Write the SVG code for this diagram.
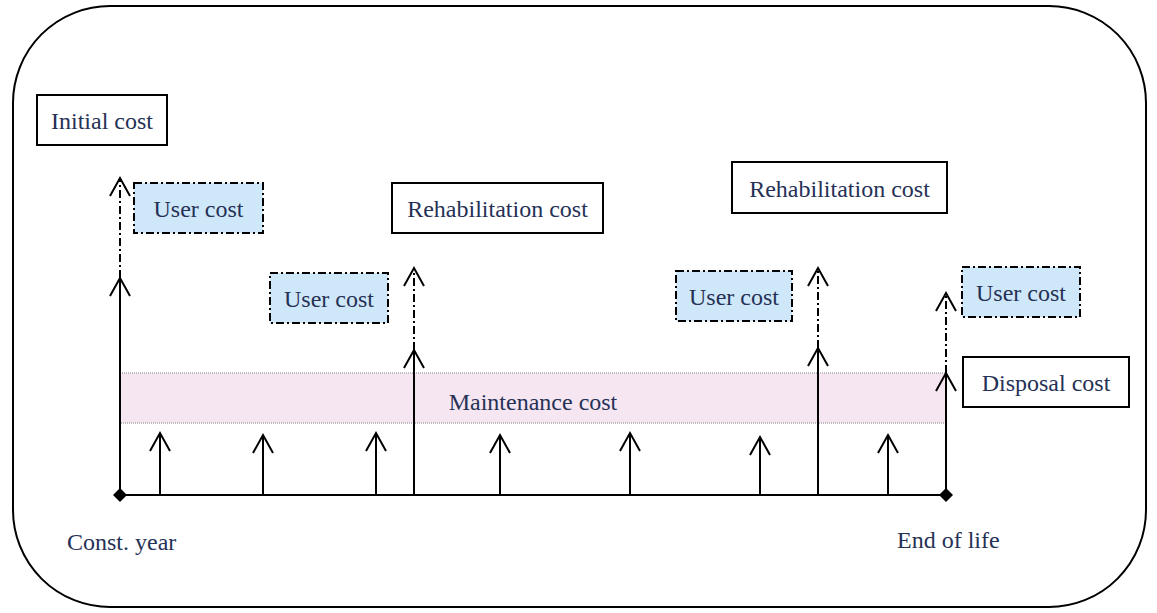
<svg xmlns="http://www.w3.org/2000/svg" width="1157" height="613" viewBox="0 0 1157 613">
  <style>
    .lbl { font-family: "Liberation Serif", "Times New Roman", serif; font-size: 24px; fill: #263156; }
    .box { fill: #ffffff; stroke: #000000; stroke-width: 2; }
    .ubox { fill: #cfe8f9; stroke: #000000; stroke-width: 2; stroke-dasharray: 8 3 2 3; }
    .solid { stroke: #000000; stroke-width: 2; fill: none; }
    .dash { stroke: #000000; stroke-width: 2; fill: none; stroke-dasharray: 8 3 2 3; }
  </style>
  <defs>
    <marker id="head" markerUnits="userSpaceOnUse" markerWidth="40" markerHeight="40" viewBox="-20 -20 40 40" refX="0" refY="0" orient="auto" overflow="visible">
      <path d="M-18,-10 L0,0 L-18,10" fill="none" stroke="#000" stroke-width="2"/>
    </marker>
    <marker id="dia" markerUnits="userSpaceOnUse" markerWidth="20" markerHeight="20" viewBox="-10 -10 20 20" refX="0" refY="0" overflow="visible">
      <path d="M0,-7 L7,0 L0,7 L-7,0 Z" fill="#000"/>
    </marker>
  </defs>

  <!-- frame -->
  <rect x="13" y="6" width="1133" height="601" rx="97" ry="97" fill="#ffffff" stroke="#000" stroke-width="2"/>

  <!-- maintenance band -->
  <g id="maintenance">
    <rect x="120" y="373" width="826" height="50" fill="#f5e6f1" stroke="#aaaaaa" stroke-width="1.5" stroke-dasharray="1 1"/>
    <text class="lbl" x="533" y="410" text-anchor="middle">Maintenance cost</text>
  </g>

  <g id="connectors">
    <!-- time axis -->
    <line x1="120" y1="495" x2="946" y2="495" class="solid" marker-start="url(#dia)" marker-end="url(#dia)"/>
    <!-- yearly maintenance arrows -->
    <line x1="160" y1="495" x2="160" y2="433" class="solid" marker-end="url(#head)"/>
    <line x1="263" y1="495" x2="263" y2="435" class="solid" marker-end="url(#head)"/>
    <line x1="376" y1="495" x2="376" y2="433" class="solid" marker-end="url(#head)"/>
    <line x1="500" y1="495" x2="500" y2="435" class="solid" marker-end="url(#head)"/>
    <line x1="630" y1="495" x2="630" y2="433" class="solid" marker-end="url(#head)"/>
    <line x1="760" y1="495" x2="760" y2="437" class="solid" marker-end="url(#head)"/>
    <line x1="888" y1="495" x2="888" y2="435" class="solid" marker-end="url(#head)"/>
    <!-- initial cost -->
    <line x1="120" y1="495" x2="120" y2="278" class="solid" marker-end="url(#head)"/>
    <line x1="120" y1="278" x2="120" y2="178" class="dash" marker-end="url(#head)"/>
    <!-- first rehabilitation -->
    <line x1="414" y1="495" x2="414" y2="350" class="solid" marker-end="url(#head)"/>
    <line x1="414" y1="350" x2="414" y2="268" class="dash" marker-end="url(#head)"/>
    <!-- second rehabilitation -->
    <line x1="818" y1="495" x2="818" y2="348" class="solid" marker-end="url(#head)"/>
    <line x1="818" y1="348" x2="818" y2="268" class="dash" marker-end="url(#head)"/>
    <!-- disposal -->
    <line x1="946" y1="495" x2="946" y2="373" class="solid" marker-end="url(#head)"/>
    <line x1="946" y1="373" x2="946" y2="293" class="dash" marker-end="url(#head)"/>
  </g>

  <g id="initial-cost">
    <rect class="box" x="37" y="95" width="130" height="50"/>
    <text class="lbl" x="102" y="129" text-anchor="middle">Initial cost</text>
  </g>
  <g id="user-cost-1">
    <rect class="ubox" x="134" y="183" width="129" height="50"/>
    <text class="lbl" x="198.5" y="217" text-anchor="middle">User cost</text>
  </g>
  <g id="rehab-cost-1">
    <rect class="box" x="392" y="183" width="211" height="50"/>
    <text class="lbl" x="497.5" y="217" text-anchor="middle">Rehabilitation cost</text>
  </g>
  <g id="user-cost-2">
    <rect class="ubox" x="270" y="273" width="118" height="50"/>
    <text class="lbl" x="329" y="307" text-anchor="middle">User cost</text>
  </g>
  <g id="rehab-cost-2">
    <rect class="box" x="732" y="162" width="215" height="51"/>
    <text class="lbl" x="839.5" y="197" text-anchor="middle">Rehabilitation cost</text>
  </g>
  <g id="user-cost-3">
    <rect class="ubox" x="676" y="271" width="116" height="50"/>
    <text class="lbl" x="734" y="305" text-anchor="middle">User cost</text>
  </g>
  <g id="user-cost-4">
    <rect class="ubox" x="962" y="267" width="118" height="50"/>
    <text class="lbl" x="1021" y="301" text-anchor="middle">User cost</text>
  </g>
  <g id="disposal-cost">
    <rect class="box" x="963" y="357" width="166" height="50"/>
    <text class="lbl" x="1046" y="391" text-anchor="middle">Disposal cost</text>
  </g>

  <g id="axis-labels">
    <text class="lbl" x="67" y="550">Const. year</text>
    <text class="lbl" x="897" y="548">End of life</text>
  </g>
</svg>
